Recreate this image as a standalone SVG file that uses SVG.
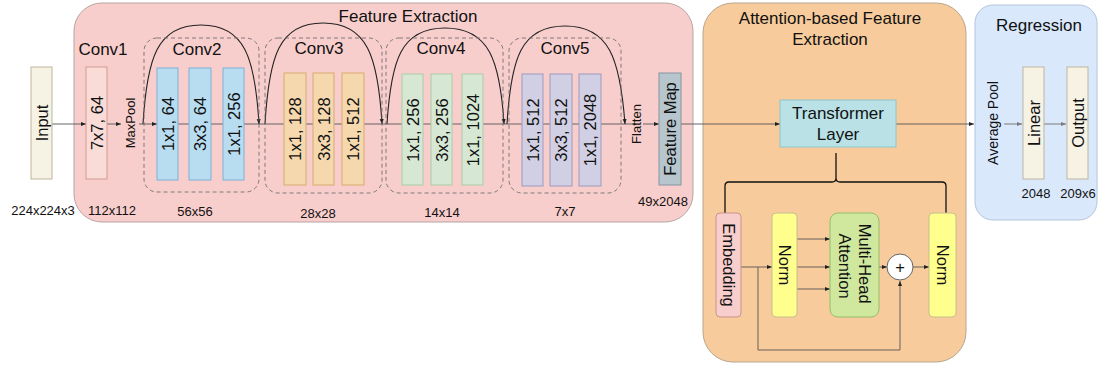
<svg xmlns="http://www.w3.org/2000/svg" width="1100" height="369" viewBox="0 0 1100 369">
  <defs>
    <marker id="arr" viewBox="0 0 10 10" refX="10" refY="5" markerWidth="5" markerHeight="5" orient="auto" markerUnits="userSpaceOnUse">
      <path d="M0,1 L10,5 L0,9 z" fill="#222"/>
    </marker>
    <marker id="arrGrey" viewBox="0 0 10 10" refX="10" refY="5" markerWidth="5" markerHeight="5" orient="auto" markerUnits="userSpaceOnUse">
      <path d="M0,1 L10,5 L0,9 z" fill="#7a7a7a"/>
    </marker>
    <style>
      text { font-family: "Liberation Sans", Arial, sans-serif; fill: #111; }
      .title { font-size: 17px; text-anchor: middle; dominant-baseline: central; }
      .lbl { font-size: 16.5px; text-anchor: middle; dominant-baseline: central; }
      .small { font-size: 13px; text-anchor: middle; dominant-baseline: central; }
      .panel { stroke-width: 1; }
      .blk { stroke-width: 1; }
      .beige { fill: #f6f2e4; stroke: #bdb59e; }
      .c1 { fill: #f9dcd8; stroke: #d49990; }
      .c2 { fill: #b8dcf0; stroke: #7eb0d5; }
      .c3 { fill: #f6d8ae; stroke: #d8aa6c; }
      .c4 { fill: #d6e8d4; stroke: #a8cca5; }
      .c5 { fill: #d1cfe3; stroke: #9d99c0; }
      .stage { fill: none; stroke: #707070; stroke-width: 0.9; stroke-dasharray: 4 3; }
      .flow { fill: none; stroke: #555; stroke-width: 0.9; }
      .skip { fill: none; stroke: #222; stroke-width: 1.1; }
      .grey { fill: none; stroke: #7a7a7a; stroke-width: 1; }
      .brace { fill: none; stroke: #111; stroke-width: 1.3; }
      .norm { fill: #ffff8e; stroke: #c4c08c; }
    </style>
  </defs>

  <!-- panels -->
  <g id="feature-extraction">
    <rect class="panel" x="74" y="3" width="619" height="219" rx="28" fill="#f8cecc" stroke="#b8a3a3"/>
    <text class="title" x="408" y="16">Feature Extraction</text>
  </g>
  <g id="attention">
    <rect class="panel" x="703" y="3" width="263" height="359" rx="30" fill="#f7cb9b" stroke="#b9a68e"/>
    <text class="title" x="830" y="18">Attention-based Feature</text>
    <text class="title" x="830" y="39">Extraction</text>
  </g>
  <g id="regression">
    <rect class="panel" x="975" y="5" width="122" height="215" rx="18" fill="#dae8fc" stroke="#b4c4dc"/>
    <text class="title" x="1039" y="25">Regression</text>
  </g>

  <!-- connectors -->
  <g id="connectors">
    <line class="flow" x1="52" y1="124" x2="86" y2="124" marker-end="url(#arr)"/>
    <line class="flow" x1="107" y1="124" x2="121" y2="124" marker-end="url(#arr)"/>
    <line class="flow" x1="139" y1="124" x2="157" y2="124" marker-end="url(#arr)"/>
    <line class="flow" x1="157" y1="124" x2="636" y2="124"/>
    <line class="flow" x1="643" y1="124" x2="659" y2="124" marker-end="url(#arr)"/>
    <line class="flow" x1="681" y1="124" x2="780" y2="124" marker-end="url(#arr)"/>
    <line class="flow" x1="896" y1="124" x2="974" y2="124" marker-end="url(#arr)"/>
    <line class="grey" x1="1004" y1="124" x2="1022" y2="124" marker-end="url(#arrGrey)"/>
    <line class="grey" x1="1044" y1="124" x2="1066" y2="124" marker-end="url(#arrGrey)"/>

    <!-- residual skips over each stage -->
    <path class="skip" d="M143,124 C147,58 157,25 201,25 C245,25 255,58 259,124" marker-end="url(#arr)"/>
    <path class="skip" d="M265,124 C269,56 279,23 323,23 C367,23 378,56 382,124" marker-end="url(#arr)"/>
    <path class="skip" d="M387,124 C391,60 401,28 445,28 C489,28 500,60 504,124" marker-end="url(#arr)"/>
    <path class="skip" d="M507,124 C511,58 521,26 565,26 C609,26 620,58 625,124" marker-end="url(#arr)"/>

    <!-- transformer layer breakdown -->
    <path class="brace" d="M725,213 L725,186 Q725,182 729,182 L832,182 Q836,182 836,178 L836,153 M836,178 Q836,182 840,182 L942,182 Q946,182 946,186 L946,213"/>
    <line class="flow" x1="741" y1="267" x2="772" y2="267" marker-end="url(#arr)"/>
    <line class="flow" x1="797" y1="239" x2="830" y2="239" marker-end="url(#arr)"/>
    <line class="flow" x1="797" y1="267" x2="830" y2="267" marker-end="url(#arr)"/>
    <line class="flow" x1="797" y1="289" x2="830" y2="289" marker-end="url(#arr)"/>
    <polyline class="flow" points="758,267 758,350 900,350 900,281" marker-end="url(#arr)"/>
    <line class="flow" x1="879" y1="267" x2="887" y2="267" marker-end="url(#arr)"/>
    <line class="flow" x1="913" y1="267" x2="929" y2="267" marker-end="url(#arr)"/>
  </g>

  <!-- input -->
  <g id="input">
    <rect class="blk beige" x="31" y="67" width="21" height="112"/>
    <text class="lbl" transform="translate(41.5,123) rotate(-90)">Input</text>
    <text class="small" x="43" y="210">224x224x3</text>
  </g>

  <!-- conv1 -->
  <g id="conv1">
    <text class="title" x="103" y="49">Conv1</text>
    <rect class="blk c1" x="86" y="67" width="21" height="112"/>
    <text class="lbl" transform="translate(96.5,123) rotate(-90)">7x7, 64</text>
    <text class="small" transform="translate(130,123) rotate(-90)">MaxPool</text>
    <text class="small" x="112" y="210">112x112</text>
  </g>

  <!-- conv2 -->
  <g id="conv2">
    <rect class="stage" x="144" y="38" width="115" height="154" rx="13"/>
    <text class="title" x="197" y="49">Conv2</text>
    <rect class="blk c2" x="157" y="68" width="21" height="112"/>
    <rect class="blk c2" x="189" y="68" width="22" height="112"/>
    <rect class="blk c2" x="223" y="68" width="21" height="112"/>
    <text class="lbl" transform="translate(167.5,124) rotate(-90)">1x1, 64</text>
    <text class="lbl" transform="translate(200,124) rotate(-90)">3x3, 64</text>
    <text class="lbl" transform="translate(233.5,124) rotate(-90)">1x1, 256</text>
    <text class="small" x="195" y="211">56x56</text>
  </g>

  <!-- conv3 -->
  <g id="conv3">
    <rect class="stage" x="265" y="38" width="117" height="155" rx="13"/>
    <text class="title" x="319" y="48">Conv3</text>
    <rect class="blk c3" x="284" y="73" width="22" height="112"/>
    <rect class="blk c3" x="313" y="73" width="21" height="112"/>
    <rect class="blk c3" x="342" y="73" width="22" height="112"/>
    <text class="lbl" transform="translate(295,129) rotate(-90)">1x1, 128</text>
    <text class="lbl" transform="translate(323.5,129) rotate(-90)">3x3, 128</text>
    <text class="lbl" transform="translate(353,129) rotate(-90)">1x1, 512</text>
    <text class="small" x="318" y="213">28x28</text>
  </g>

  <!-- conv4 -->
  <g id="conv4">
    <rect class="stage" x="386" y="38" width="117" height="155" rx="13"/>
    <text class="title" x="441" y="48">Conv4</text>
    <rect class="blk c4" x="402" y="74" width="21" height="111"/>
    <rect class="blk c4" x="431" y="74" width="21" height="111"/>
    <rect class="blk c4" x="462" y="74" width="21" height="111"/>
    <text class="lbl" transform="translate(412.5,130) rotate(-90)">1x1, 256</text>
    <text class="lbl" transform="translate(441.5,130) rotate(-90)">3x3, 256</text>
    <text class="lbl" transform="translate(472.5,130) rotate(-90)">1x1, 1024</text>
    <text class="small" x="442" y="212">14x14</text>
  </g>

  <!-- conv5 -->
  <g id="conv5">
    <rect class="stage" x="509" y="38" width="112" height="155" rx="13"/>
    <text class="title" x="565" y="48">Conv5</text>
    <rect class="blk c5" x="522" y="74" width="21" height="112"/>
    <rect class="blk c5" x="550" y="74" width="22" height="112"/>
    <rect class="blk c5" x="579" y="74" width="22" height="112"/>
    <text class="lbl" transform="translate(532.5,130) rotate(-90)">1x1, 512</text>
    <text class="lbl" transform="translate(561,130) rotate(-90)">3x3, 512</text>
    <text class="lbl" transform="translate(590,130) rotate(-90)">1x1, 2048</text>
    <text class="small" x="565" y="211">7x7</text>
  </g>

  <!-- flatten / feature map -->
  <g id="feature-map">
    <text class="small" transform="translate(636,124) rotate(-90)">Flatten</text>
    <rect class="blk" x="659" y="73" width="22" height="112" fill="#b7c5cd" stroke="#8596a0"/>
    <text class="lbl" transform="translate(670,129) rotate(-90)">Feature Map</text>
    <text class="small" x="663" y="201">49x2048</text>
  </g>

  <!-- transformer layer -->
  <g id="transformer">
    <rect class="blk" x="780" y="100" width="116" height="47" fill="#b9e1e6" stroke="#8ec5cc"/>
    <text class="title" x="838" y="113">Transformer</text>
    <text class="title" x="838" y="134">Layer</text>
  </g>
  <g id="embedding">
    <rect class="blk" x="716" y="213" width="25" height="104" rx="4" fill="#f8cecc" stroke="#c9938f"/>
    <text class="lbl" transform="translate(728.5,265) rotate(90)">Embedding</text>
  </g>
  <g id="norm1">
    <rect class="blk norm" x="772" y="213" width="25" height="104" rx="4"/>
    <text class="lbl" transform="translate(784.5,265) rotate(90)">Norm</text>
  </g>
  <g id="mha">
    <rect class="blk" x="830" y="213" width="49" height="104" rx="8" fill="#cfe89e" stroke="#93bf6a"/>
    <text class="lbl" transform="translate(854.5,266) rotate(90)">
      <tspan x="0" y="-10">Multi-Head</tspan>
      <tspan x="0" y="10">Attention</tspan>
    </text>
  </g>
  <g id="add">
    <circle cx="900" cy="267" r="13" fill="#fff" stroke="#666"/>
    <text class="lbl" x="900" y="267">+</text>
  </g>
  <g id="norm2">
    <rect class="blk norm" x="929" y="213" width="27" height="104" rx="4"/>
    <text class="lbl" transform="translate(942.5,265) rotate(90)">Norm</text>
  </g>

  <!-- regression head -->
  <g id="average-pool">
    <text class="small" style="font-size:14px" transform="translate(993,123) rotate(-90)">Average Pool</text>
  </g>
  <g id="linear">
    <rect class="blk beige" x="1023" y="67" width="21" height="112"/>
    <text class="lbl" transform="translate(1033.5,123) rotate(-90)">Linear</text>
    <text class="small" x="1036" y="193">2048</text>
  </g>
  <g id="output">
    <rect class="blk beige" x="1067" y="67" width="21" height="112"/>
    <text class="lbl" transform="translate(1077.5,123) rotate(-90)">Output</text>
    <text class="small" x="1078" y="193">209x6</text>
  </g>
</svg>
